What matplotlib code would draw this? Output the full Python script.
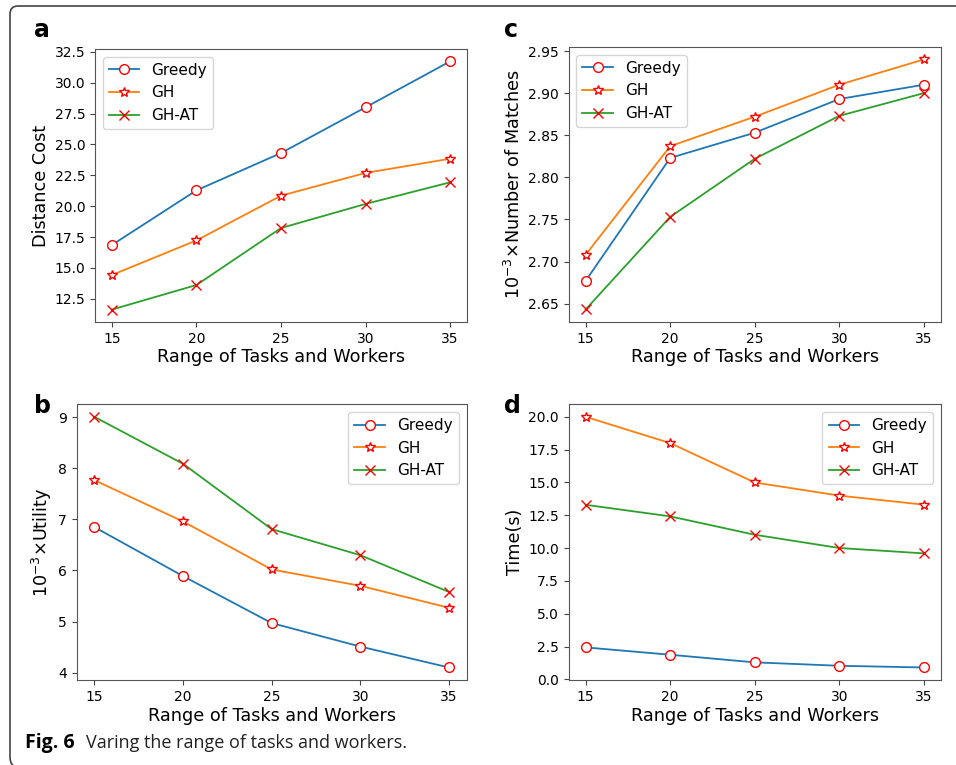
import matplotlib.pyplot as plt
from matplotlib.path import Path
from matplotlib.patches import PathPatch

x = [15, 20, 25, 30, 35]
labels = ["Greedy", "GH", "GH-AT"]

# a: distance cost
cost_greedy = [16.86, 21.28, 24.30, 28.00, 31.72]
cost_gh = [14.43, 17.23, 20.85, 22.69, 23.84]
cost_ghat = [11.63, 13.62, 18.23, 20.18, 21.93]

# c: number of matches (x10^-3)
match_greedy = [2.677, 2.823, 2.853, 2.893, 2.910]
match_gh = [2.708, 2.837, 2.872, 2.910, 2.940]
match_ghat = [2.643, 2.753, 2.822, 2.873, 2.900]

# b: utility (x10^-3)
util_greedy = [6.85, 5.89, 4.97, 4.51, 4.10]
util_gh = [7.77, 6.96, 6.02, 5.70, 5.27]
util_ghat = [9.01, 8.09, 6.81, 6.30, 5.58]

# d: time
time_greedy = [2.44, 1.88, 1.30, 1.04, 0.91]
time_gh = [20.0, 18.0, 15.0, 14.0, 13.31]
time_ghat = [13.30, 12.42, 11.02, 10.01, 9.60]

xlabel = "Range of Tasks and Workers"

W, H = 956, 765
fig = plt.figure(figsize=(W / 100, H / 100), dpi=100)

# outer frame of the published figure (open on the right side)
px = [(990, 767), (18, 767), (10, 767), (10, 757), (10, 14), (10, 6),
      (18, 6), (990, 6)]
codes = [Path.MOVETO, Path.LINETO, Path.CURVE3, Path.CURVE3, Path.LINETO,
         Path.CURVE3, Path.CURVE3, Path.LINETO]
verts = [(a / W, 1 - b / H) for a, b in px]
fig.patches.append(PathPatch(Path(verts, codes), transform=fig.transFigure,
                             fill=False, edgecolor="#444444", linewidth=1.2))


def panel(rect, series, ylabel, loc, letter, lpos):
    ax = fig.add_axes(rect)
    styles = [("o", "white"), ("*", "white"), ("x", "none")]
    for ys, lab, (m, fc) in zip(series, labels, styles):
        ax.plot(x, ys, marker=m, markersize=7 if m != "*" else 7.5,
                markeredgecolor="red", markerfacecolor=fc,
                markeredgewidth=1.0, linewidth=1.3, label=lab)
    ax.set_xticks(x)
    ax.set_xlabel(xlabel, fontsize=12.7, labelpad=2)
    ax.set_ylabel(ylabel, fontsize=12.7, labelpad=3)
    ax.tick_params(labelsize=10, color="#444444")
    for s in ax.spines.values():
        s.set_edgecolor("#555555")
    ax.legend(loc=loc, fontsize=11)
    fig.text(lpos[0], lpos[1], letter, fontsize=17, fontweight="bold",
             va="baseline")
    return ax


panel([0.0994, 0.5791, 0.3891, 0.3569], [cost_greedy, cost_gh, cost_ghat],
      "Distance Cost", "upper left", "a", (0.036, 0.952))
panel([0.5949, 0.5791, 0.3891, 0.3595], [match_greedy, match_gh, match_ghat],
      r"$10^{-3}$$\times$Number of Matches", "upper left", "c", (0.527, 0.952))
panel([0.0802, 0.1111, 0.4079, 0.3604], [util_greedy, util_gh, util_ghat],
      r"$10^{-3}$$\times$Utility", "upper right", "b", (0.036, 0.460))
panel([0.5949, 0.1111, 0.3891, 0.3604], [time_greedy, time_gh, time_ghat],
      "Time(s)", "upper right", "d", (0.527, 0.460))

fig.text(25 / W, 1 - 748 / H, "Fig. 6", fontsize=14, fontweight="bold",
         family="Open Sans", va="baseline")
fig.text(86 / W, 1 - 748 / H, "Varing the range of tasks and workers.",
         fontsize=13, family="Open Sans", va="baseline", color="#222222")

fig.savefig("out.png", dpi=100)
